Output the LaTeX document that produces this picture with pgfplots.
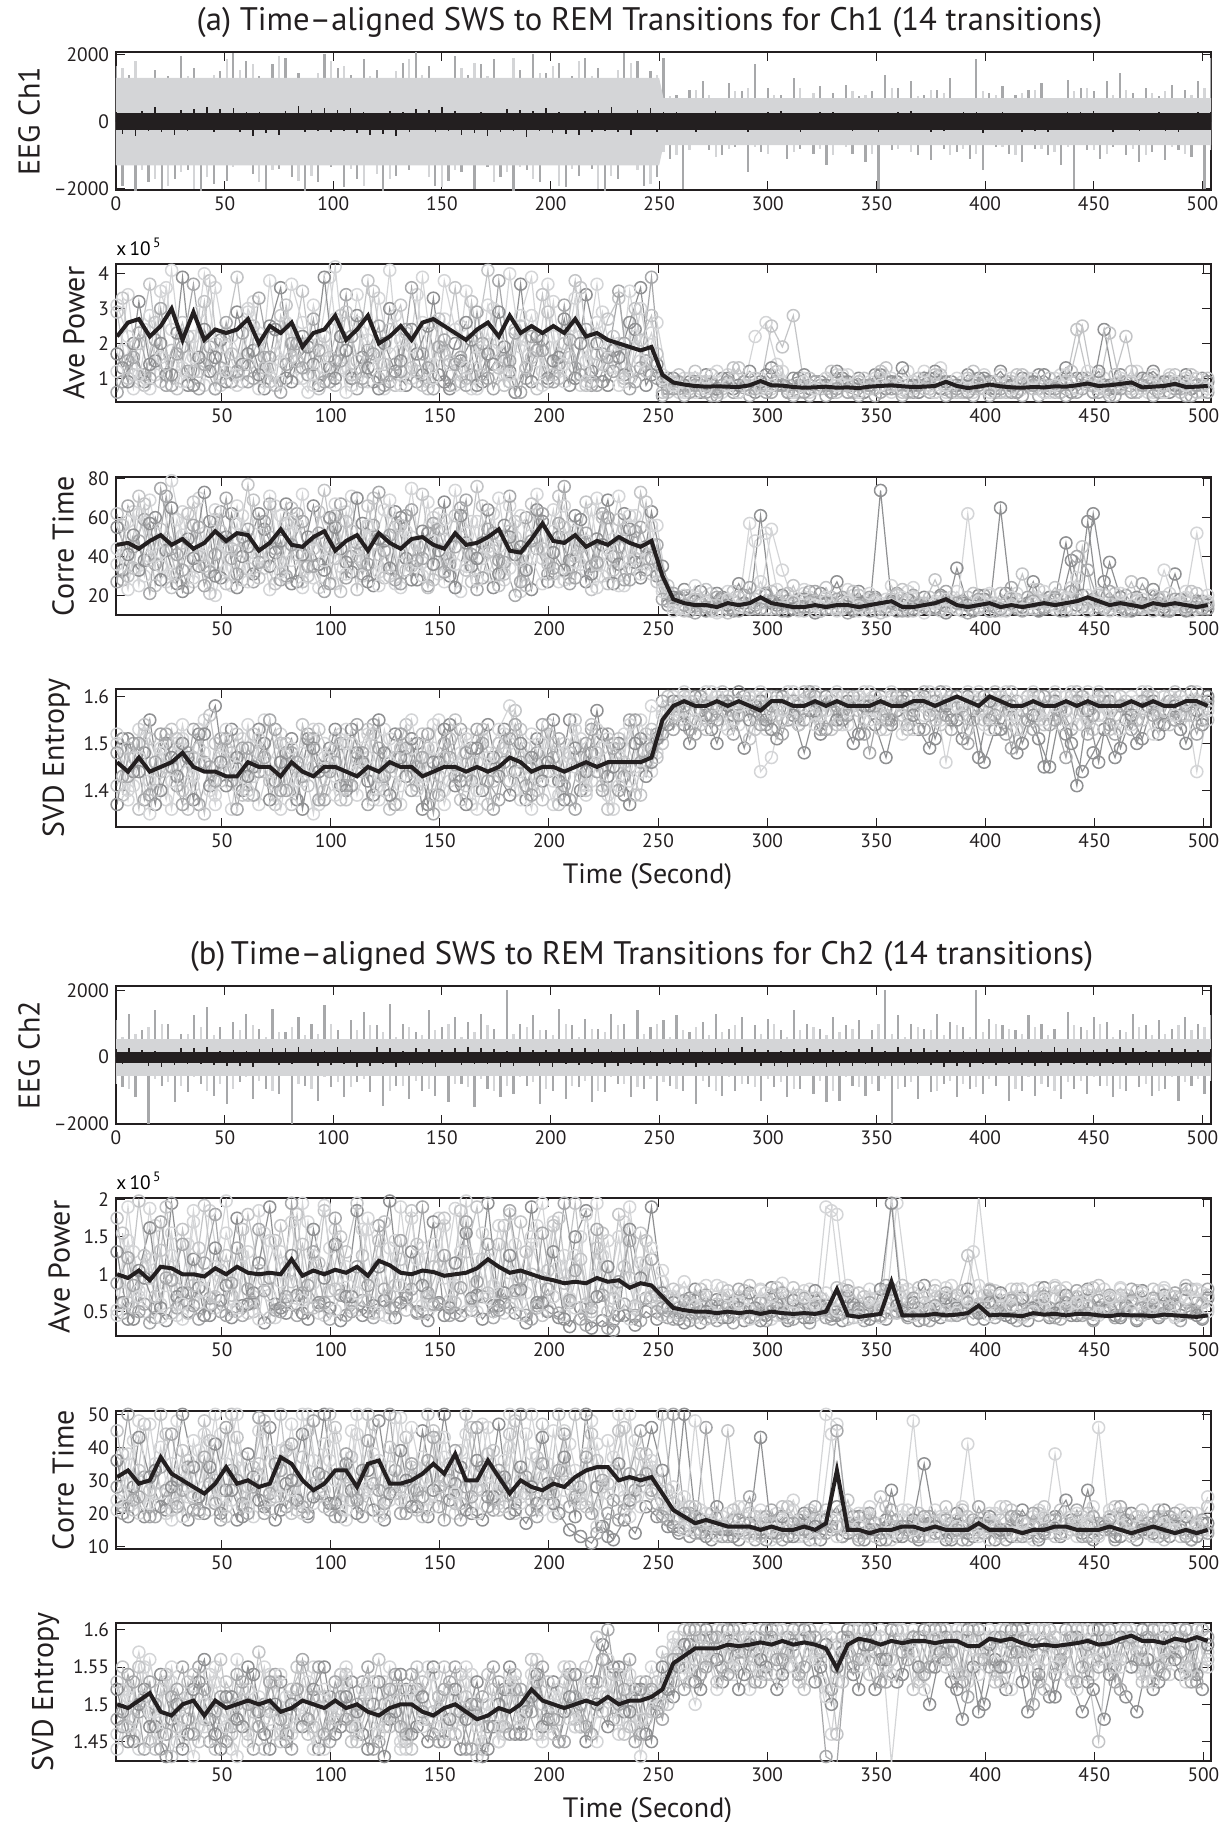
\documentclass[border=0pt]{standalone}
\usepackage{fontspec}
\setmainfont{PT Sans}
\usepackage{pgfplots}
\usepackage{pgfplotstable}
\pgfplotsset{compat=1.18}

\definecolor{lg}{HTML}{D4D5D7}
\definecolor{lg2}{HTML}{C3C4C6}
\definecolor{mg}{HTML}{A7A8AA}
\definecolor{dg}{HTML}{8F9092}
\definecolor{kk}{HTML}{231F20}

\pgfplotsset{
  panel/.style={
    width=547.5pt, height=69pt, scale only axis, anchor=north west,
    axis line style={line width=0.6pt, color=kk},
    tick align=inside, major tick length=4.5pt,
    tick style={line width=0.5pt, color=kk},
    ticklabel style={font=\fontsize{9.7}{11}\selectfont, color=kk},
    /pgf/number format/assume math mode=true,
    /pgf/number format/1000 sep={},
    ylabel style={font=\fontsize{15}{17}\selectfont, color=kk},
    xlabel style={font=\fontsize{14}{16}\selectfont, color=kk, xshift=-8pt, yshift=-1pt},
    title style={font=\fontsize{16.3}{19}\selectfont, color=kk, yshift=-2.5pt},
    xmin=1.5, xmax=503.5, xtick={50,100,...,500},
  },
  over/.style={panel, hide axis},
  eeg/.style={panel, xmin=0, xmax=504, xtick={0,50,...,500},
    ytick={-2000,0,2000}, yticklabels={\textendash2000,0,2000}},
  cl/.style={color=#1, mark=o, mark size=3pt, line width=0.6pt,
    mark options={line width=0.75pt}},
  meanline/.style={color=kk, line width=2pt, mark=none},
  sci/.style={after end axis/.code={
    \node[anchor=base west, inner sep=0pt, font=\fontsize{9.7}{11}\selectfont]
      at (rel axis cs:0,1) [yshift=4.5pt] {x\,10\textsuperscript{\,5}};}},
  spike/.style={color=#1, ycomb, line width=1.1pt, mark=none},
}

\newcommand\cloud[2]{%
  \addplot[cl=lg] table[x=x,y=f]{#2};
  \addplot[cl=dg] table[x=x,y=i]{#2};
  \addplot[cl=lg] table[x=x,y=a]{#1};
  \addplot[cl=mg] table[x=x,y=g]{#2};
  \addplot[cl=dg] table[x=x,y=d]{#1};
  \addplot[cl=lg2] table[x=x,y=b]{#1};
  \addplot[cl=lg2] table[x=x,y=h]{#2};
  \addplot[cl=mg] table[x=x,y=c]{#1};
  \addplot[cl=lg] table[x=x,y=e]{#1};}

% EEG traces: g = mid grey, l = light grey, k = mean (black)
\pgfplotstableread{
x g l k
0 1650 -1300 300
3 -1900 1600 -380
6 1400 -1100 250
9 -2100 1800 -420
12 1250 -1450 330
15 -1800 1000 -280
18 1550 -1700 450
21 -2000 1250 -310
24 1350 -1900 260
27 -1700 1150 -400
30 1950 -1500 350
33 -1450 1350 -290
36 1600 -2000 370
39 -2100 1050 -240
42 1300 -1650 430
45 -1850 1400 -300
48 1500 -1200 380
51 -1750 1850 -260
54 2050 -1350 410
57 -1200 1550 -320
60 1800 -1050 280
63 -1550 1700 -440
66 1350 -1800 300
69 -2000 1200 -350
72 1700 -1450 270
75 -1400 1950 -390
78 1900 -1150 320
81 -1650 1300 -250
84 1450 -1750 460
87 -2100 1100 -310
90 1250 -1600 340
93 -1800 1450 -280
96 2000 -1250 400
99 -1350 1800 -300
102 1600 -1000 360
105 -1950 1650 -270
108 1400 -1400 420
111 -1700 1200 -330
114 1850 -1900 290
117 -1250 1350 -410
120 1550 -1550 250
123 -2050 1000 -360
126 1300 -1700 320
129 -1600 1500 -440
132 1750 -1300 280
135 -1450 1850 -300
138 2100 -1150 390
141 -1300 1400 -260
144 1650 -1650 350
147 -1900 1250 -310
150 1200 -1950 430
153 -1750 1100 -280
156 1950 -1450 330
159 -1500 1600 -400
162 1400 -1200 270
165 -2000 1750 -350
168 1700 -1050 300
171 -1350 1350 -420
174 1850 -1800 260
177 -1650 1150 -320
180 1300 -1500 380
183 -2100 1900 -290
186 1550 -1350 340
189 -1450 1050 -450
192 2000 -1700 310
195 -1800 1450 -270
198 1450 -1250 400
201 -1250 1650 -330
204 1750 -1900 290
207 -1950 1200 -370
210 1350 -1400 250
213 -1600 1800 -410
216 1900 -1100 320
219 -1400 1350 -300
222 1600 -2000 360
225 -2050 1000 -280
228 1250 -1600 430
231 -1700 1550 -310
234 2050 -1300 270
237 -1300 1750 -390
240 1800 -1450 340
243 -1900 1150 -260
246 1500 -1850 420
249 -1650 1400 -300
252 1900 -900 280
255 -1100 750 -220
258 800 -1000 300
261 -2000 600 -190
264 950 -850 250
267 -700 950 -300
270 1200 -650 180
273 -850 800 -260
276 650 -1050 330
279 -1000 550 -200
282 1150 -800 270
285 -750 900 -170
288 900 -600 240
291 -1500 1000 -310
294 1700 -750 200
297 -900 650 -260
300 1000 -950 290
303 -650 800 -180
306 800 -700 320
309 -1100 600 -230
312 1300 -900 260
315 -800 1000 -300
318 700 -550 190
321 -950 850 -250
324 1050 -800 280
327 -1300 700 -210
330 850 -1000 300
333 -700 600 -170
336 1100 -750 250
339 -950 900 -290
342 750 -650 220
345 -1200 800 -260
348 900 -950 180
351 -2000 700 -310
354 1400 -600 270
357 -850 1000 -200
360 1000 -800 290
363 -700 650 -240
366 1200 -900 320
369 -1000 750 -180
372 800 -700 260
375 -1150 950 -300
378 950 -600 210
381 -800 850 -270
384 1300 -1000 240
387 -900 700 -190
390 700 -800 300
393 -1100 600 -250
396 1850 -950 280
399 -1450 900 -330
402 850 -650 200
405 -750 800 -260
408 1050 -750 290
411 -950 650 -180
414 800 -1000 250
417 -1200 850 -300
420 950 -600 220
423 -800 950 -270
426 1150 -800 190
429 -1000 700 -310
432 700 -900 260
435 -1300 600 -230
438 1250 -750 300
441 -2000 900 -200
444 1000 -650 280
447 -850 1000 -250
450 900 -850 320
453 -1100 700 -190
456 1200 -950 270
459 -750 800 -300
462 1450 -600 230
465 -1000 950 -260
468 850 -800 200
471 -1200 650 -290
474 1000 -1000 250
477 -900 850 -180
480 750 -700 300
483 -1150 900 -270
486 1100 -750 220
489 -850 600 -310
492 950 -950 260
495 -1050 800 -200
498 1200 -700 280
501 -2000 1000 -250
504 1900 -850 300
}\eegA

\pgfplotstableread{
x g l k
0 1100 -800 250
3 -900 600 -200
6 1300 -950 280
9 -1200 700 -180
12 800 -500 230
15 -2000 900 -260
18 1400 -650 200
21 -850 1000 -290
24 1000 -750 170
27 -1350 550 -240
30 700 -850 280
33 -1050 700 -210
36 1250 -600 260
39 -800 900 -190
42 1500 -1000 300
45 -1150 650 -230
48 900 -800 180
51 -1400 500 -270
54 1050 -950 220
57 -750 800 -250
60 1300 -600 190
63 -1250 950 -300
66 850 -700 240
69 -950 600 -170
72 1450 -1000 280
75 -1100 750 -220
78 750 -550 260
81 -2000 900 -200
84 1200 -800 290
87 -850 650 -180
90 1000 -950 250
93 -1300 700 -270
96 1550 -600 200
99 -900 1000 -240
102 800 -750 300
105 -1200 550 -190
108 1100 -900 230
111 -750 800 -280
114 1350 -650 170
117 -1050 950 -250
120 950 -500 290
123 -1450 750 -210
126 1600 -1000 260
129 -850 600 -300
132 1000 -850 180
135 -1250 900 -240
138 750 -700 270
141 -1000 650 -200
144 1400 -950 250
147 -1150 800 -290
150 900 -550 220
153 -1350 1000 -170
156 1200 -800 280
159 -800 600 -230
162 1050 -900 300
165 -1500 750 -190
168 1300 -650 260
171 -950 950 -210
174 850 -1000 240
177 -1200 550 -280
180 2000 -850 200
183 -1100 700 -250
186 1000 -600 290
189 -850 900 -180
192 1250 -750 230
195 -1400 800 -270
198 800 -950 210
201 -1000 650 -300
204 1450 -500 250
207 -1250 1000 -190
210 950 -850 280
213 -900 600 -220
216 1150 -700 260
219 -1350 850 -200
222 850 -1000 240
225 -1050 750 -290
228 1300 -600 180
231 -800 950 -250
234 1000 -800 270
237 -1200 550 -210
240 1400 -900 300
243 -950 700 -230
246 900 -650 200
249 -1300 1000 -260
252 1100 -750 240
255 -850 600 -190
258 1250 -950 280
261 -1000 800 -220
264 750 -550 250
267 -1400 900 -300
270 1050 -700 180
273 -900 650 -240
276 1300 -1000 270
279 -1150 750 -200
282 850 -600 260
285 -1000 950 -230
288 1200 -800 290
291 -800 550 -180
294 950 -900 250
297 -1300 700 -270
300 1150 -650 210
303 -900 1000 -260
306 800 -750 200
309 -1200 600 -290
312 1400 -950 240
315 -950 800 -220
318 1000 -550 280
321 -1100 900 -190
324 850 -700 250
327 -1350 650 -300
330 1200 -1000 230
333 -1300 750 -260
336 950 -600 200
339 -850 850 -270
342 1100 -900 240
345 -1150 550 -210
348 800 -800 290
351 -1000 1000 -250
354 2000 -650 180
357 -2000 700 -260
360 1250 -950 300
363 -900 600 -220
366 1000 -750 250
369 -1250 900 -190
372 850 -550 270
375 -1050 800 -240
378 1300 -1000 210
381 -800 650 -280
384 1050 -700 230
387 -1200 950 -260
390 900 -800 200
393 -950 600 -290
396 2000 -900 250
399 -1100 750 -210
402 1150 -650 280
405 -850 1000 -230
408 950 -550 260
411 -1300 850 -200
414 800 -950 290
417 -1000 700 -240
420 1250 -600 220
423 -1150 900 -270
426 1000 -800 190
429 -900 650 -250
432 850 -1000 300
435 -1250 550 -230
438 1350 -750 260
441 -950 950 -200
444 900 -700 280
447 -1100 800 -240
450 1200 -600 210
453 -850 1000 -270
456 1050 -850 250
459 -1200 600 -190
462 800 -950 290
465 -1000 750 -220
468 1300 -550 260
471 -900 900 -240
474 950 -800 200
477 -1150 650 -280
480 1100 -1000 230
483 -950 700 -250
486 850 -600 270
489 -1300 950 -210
492 1200 -750 250
495 -850 800 -290
498 1000 -650 220
501 -1100 900 -260
504 1250 -700 240
}\eegB

% Ch1 average power (x 10^5)
\pgfplotstableread{
x m a b c d e
2 2.2 1.2 2.9 0.6 1.7 3.1
7 2.6 3.4 1.0 1.5 0.9 2.2
12 2.7 0.9 2.0 2.3 3.2 1.1
17 2.2 2.8 3.7 1.0 1.4 0.7
22 2.5 1.6 0.9 3.0 2.0 3.5
27 3.0 4.1 1.8 0.8 1.1 2.4
32 2.1 1.3 2.6 1.9 3.9 0.9
37 2.9 2.2 1.2 3.7 0.8 1.6
42 2.1 0.8 3.2 1.4 2.4 4.0
47 2.4 3.6 0.7 0.7 1.6 2.0
52 2.3 1.9 2.3 2.6 0.9 1.2
57 2.4 1.1 3.9 1.2 2.9 0.8
62 2.7 2.9 1.4 0.9 1.7 3.0
67 2.0 0.7 2.1 3.3 1.1 2.3
72 2.5 3.8 0.9 1.6 2.5 1.3
77 2.3 1.5 2.8 0.6 3.6 0.9
82 2.6 2.4 1.6 2.0 0.9 3.7
87 1.9 1.0 3.5 1.3 2.2 2.6
92 2.3 3.1 1.1 2.7 1.4 0.8
97 2.4 1.8 2.2 0.9 3.9 1.3
102 2.8 4.2 0.8 1.5 1.0 2.7
107 2.1 1.2 2.9 3.4 1.8 0.6
112 2.4 2.6 1.5 0.7 2.8 3.4
117 2.8 0.9 3.8 1.8 1.3 2.1
122 2.0 3.3 1.0 2.5 0.7 1.4
127 2.2 1.7 2.4 0.9 3.0 4.1
132 2.5 2.1 3.1 1.2 1.5 0.8
137 2.1 1.0 1.3 3.6 2.4 1.9
142 2.6 3.9 0.8 1.7 1.1 2.6
147 2.7 1.4 2.6 0.7 3.3 1.0
152 2.5 2.7 1.7 2.1 0.9 3.8
157 2.3 0.8 3.6 1.4 2.0 2.4
162 2.1 3.5 1.0 0.8 2.6 1.3
167 2.4 1.6 2.2 2.9 0.8 0.7
172 2.6 2.3 4.1 1.0 1.7 3.1
177 2.2 1.1 1.3 3.8 2.9 2.0
182 2.8 4.0 0.9 1.5 1.2 1.1
187 2.3 1.9 2.5 0.6 3.7 2.8
192 2.5 2.8 1.6 2.2 0.9 3.9
197 2.3 1.2 3.4 1.8 2.1 0.8
202 2.5 3.2 1.1 0.9 1.5 2.2
207 2.3 0.9 2.0 3.1 2.7 1.4
212 2.7 2.5 3.8 1.3 1.0 3.3
217 2.2 1.5 0.8 2.4 3.4 0.9
222 2.3 3.7 1.7 0.8 2.0 2.6
227 2.1 1.3 2.7 1.6 0.8 1.9
232 2.0 2.0 3.3 3.5 1.6 0.8
237 1.9 1.0 1.2 0.7 2.6 3.5
242 1.8 3.0 2.1 1.3 3.6 1.5
247 1.9 1.4 2.8 3.9 1.1 2.3
252 1.1 1.1 0.6 0.5 0.9 1.0
257 0.88 0.7 0.9 0.7 1.0 0.8
262 0.82 1.0 0.7 0.5 0.8 0.6
267 0.78 0.6 1.2 0.8 0.9 1.0
272 0.76 0.9 0.8 0.6 1.1 0.7
277 0.77 0.7 0.6 0.5 0.7 1.2
282 0.76 1.1 0.9 0.9 1.0 0.8
287 0.75 0.6 1.3 0.6 0.8 0.6
292 0.80 0.8 0.7 0.5 1.2 1.0
297 0.92 1.0 0.8 0.7 0.9 0.7
302 0.80 0.7 2.5 0.6 1.3 0.8
307 0.79 0.9 1.9 0.8 0.8 1.2
312 0.75 0.6 2.8 0.5 1.0 0.6
317 0.73 1.0 0.8 0.6 1.1 0.9
322 0.74 0.7 0.7 0.9 0.9 0.7
327 0.76 0.8 1.0 0.5 0.8 1.0
332 0.73 1.1 0.6 0.7 1.2 0.8
337 0.74 0.6 0.8 0.6 0.9 1.1
342 0.72 0.9 0.9 0.5 1.0 0.6
347 0.76 0.7 0.7 0.8 0.8 0.9
352 0.78 1.0 1.2 0.6 1.1 0.8
357 0.80 0.6 0.8 0.7 0.9 1.0
362 0.77 0.8 0.6 0.5 1.3 0.7
367 0.75 0.7 0.9 0.6 0.8 0.9
372 0.76 1.0 0.7 0.9 1.0 1.2
377 0.78 0.9 1.1 0.6 1.2 0.6
382 0.90 0.6 0.8 0.5 0.9 0.8
387 0.78 0.8 0.6 0.7 0.8 1.0
392 0.72 1.1 1.0 0.6 1.1 0.7
397 0.76 0.7 0.7 0.8 1.0 0.9
402 0.82 0.9 0.8 0.5 0.9 0.6
407 0.77 0.6 0.6 0.7 1.2 1.1
412 0.74 1.0 0.9 0.6 0.8 0.7
417 0.73 0.7 1.1 0.5 1.0 0.9
422 0.75 0.8 0.7 0.8 0.9 1.0
427 0.74 0.6 0.8 0.6 1.1 0.6
432 0.77 1.0 0.6 0.7 0.8 0.8
437 0.76 0.9 0.9 0.5 1.3 1.1
442 0.80 0.7 2.4 0.6 1.0 0.7
447 0.85 0.8 1.0 0.9 0.9 1.2
452 0.78 1.1 0.7 0.6 1.2 0.8
457 0.80 0.6 2.3 0.5 0.8 0.6
462 0.84 0.9 0.8 0.7 1.1 1.0
467 0.88 0.7 1.2 0.6 0.9 0.9
472 0.74 1.0 0.7 0.8 1.0 0.7
477 0.76 0.6 0.9 0.5 1.2 1.1
482 0.78 0.8 0.8 0.6 0.9 0.6
487 0.84 0.7 1.1 0.7 0.8 0.9
492 0.75 1.0 0.7 0.5 1.1 0.8
497 0.76 0.6 0.6 0.8 1.0 1.0
502 0.78 0.9 1.0 0.6 0.9 0.7
}\powA
\pgfplotstableread{
x f g h i
4.5 1.8 0.9 3.3 1.3
9.5 0.7 1.6 1.1 2.0
14.5 2.4 1.1 0.8 0.9
19.5 1.1 2.1 2.6 1.5
24.5 3.6 0.8 1.4 1.1
29.5 1.4 1.7 0.7 2.3
34.5 0.9 1.2 2.2 0.8
39.5 2.9 0.7 1.2 1.6
44.5 1.2 1.9 3.8 1.2
49.5 0.8 1.3 1.0 2.1
54.5 2.2 0.9 1.7 0.9
59.5 1.5 2.3 0.9 1.4
64.5 3.2 1.0 2.5 1.8
69.5 0.9 1.6 1.3 0.7
74.5 1.7 0.8 0.8 2.4
79.5 2.6 1.4 3.1 1.0
84.5 1.0 2.0 1.5 1.5
89.5 0.6 1.1 2.0 1.9
94.5 2.0 1.8 0.7 0.8
99.5 3.9 0.9 1.6 1.3
104.5 1.3 1.5 2.8 2.2
109.5 0.8 2.2 1.1 1.0
114.5 2.3 1.0 0.9 1.6
119.5 1.6 1.7 3.5 0.9
124.5 0.7 0.8 1.4 2.0
129.5 2.8 1.4 0.8 1.2
134.5 1.2 2.4 2.3 0.8
139.5 3.4 0.9 1.2 1.7
144.5 0.9 1.3 0.7 2.5
149.5 1.9 1.9 2.7 1.1
154.5 1.4 0.8 1.5 0.7
159.5 2.5 1.6 0.9 1.5
164.5 0.7 1.1 3.2 2.1
169.5 1.8 2.0 1.1 0.9
174.5 3.0 0.7 1.8 1.4
179.5 1.1 1.5 0.8 1.9
184.5 0.6 2.3 2.4 0.6
189.5 2.1 1.0 1.3 1.3
194.5 1.5 1.8 0.7 2.2
199.5 3.7 0.9 2.9 1.0
204.5 1.0 1.4 1.0 1.6
209.5 2.4 2.1 1.6 0.8
214.5 0.8 1.1 3.6 2.0
219.5 1.7 0.8 0.9 1.2
224.5 2.9 1.7 1.4 0.9
229.5 1.3 1.2 2.2 1.8
234.5 0.9 2.0 1.0 1.1
239.5 2.2 0.9 3.0 2.4
244.5 1.4 1.5 1.2 0.8
249.5 2.6 1.0 1.7 1.4
254.5 0.9 0.7 0.6 1.0
259.5 0.6 0.9 1.1 0.7
264.5 1.0 0.6 0.7 0.9
269.5 0.7 0.8 0.9 0.6
274.5 0.9 0.5 1.1 0.8
279.5 0.6 0.8 0.7 1.0
284.5 1.0 0.6 1.3 0.7
289.5 0.8 0.9 0.8 0.9
294.5 2.2 0.7 1.0 0.6
299.5 2.6 0.6 0.7 1.1
304.5 1.4 0.9 1.2 0.8
309.5 0.7 0.6 0.8 0.6
314.5 1.0 0.8 0.6 1.0
319.5 0.6 0.5 1.0 0.7
324.5 0.9 0.8 0.7 0.9
329.5 0.7 0.6 1.2 0.6
334.5 1.1 0.9 0.8 1.0
339.5 0.8 0.6 0.6 0.8
344.5 0.6 0.8 1.0 0.6
349.5 1.0 0.5 0.7 1.1
354.5 0.7 0.9 1.3 0.7
359.5 0.9 0.7 0.8 0.9
364.5 1.2 0.6 0.6 0.8
369.5 0.6 0.8 1.0 0.6
374.5 0.8 0.6 0.7 1.0
379.5 1.3 0.9 1.1 0.7
384.5 0.7 0.6 0.8 0.9
389.5 0.9 0.8 0.6 0.6
394.5 0.6 0.5 1.2 0.8
399.5 1.1 0.9 0.7 1.0
404.5 0.7 0.6 0.9 0.7
409.5 0.9 0.8 0.6 0.9
414.5 0.6 0.6 1.1 0.6
419.5 1.0 0.9 0.8 0.8
424.5 0.8 0.5 0.7 1.1
429.5 0.6 0.8 1.0 0.7
434.5 1.1 0.6 0.6 0.9
439.5 0.7 0.9 1.2 0.6
444.5 0.9 0.7 2.5 1.0
449.5 0.6 0.6 0.8 0.8
454.5 1.0 0.8 0.7 2.4
459.5 0.8 0.5 1.1 0.7
464.5 0.7 0.9 2.2 0.9
469.5 1.2 0.6 0.6 0.6
474.5 0.6 0.8 0.9 1.0
479.5 0.9 0.6 0.7 0.8
484.5 1.1 0.9 1.0 0.6
489.5 0.7 0.7 0.6 0.9
494.5 0.9 0.5 1.1 0.7
499.5 0.6 0.8 0.8 1.0
}\powAb

% Ch1 correlation time
\pgfplotstableread{
x m a b c d e
2 46 36 62 27 55 44
7 47 58 30 66 41 23
12 44 25 71 48 33 62
17 48 69 38 21 57 40
22 51 42 54 75 28 35
27 46 31 24 44 65 79
32 49 63 47 33 22 51
37 44 27 68 56 39 29
42 47 52 35 25 73 46
47 53 20 59 41 30 64
52 48 45 26 70 50 33
57 52 66 43 31 24 57
62 51 34 77 54 45 27
67 43 57 29 37 62 40
72 47 23 50 67 35 71
77 54 61 37 28 48 32
82 46 38 65 46 26 58
87 45 72 27 58 41 24
92 50 29 44 35 66 49
97 53 47 74 22 33 38
102 43 26 39 61 55 67
107 48 63 58 29 37 31
112 51 40 23 47 70 44
117 43 55 66 36 27 56
122 52 32 41 73 49 25
127 47 69 30 51 34 63
132 44 24 56 26 60 42
137 49 50 35 64 28 75
142 50 37 72 39 53 30
147 46 60 28 57 36 48
152 44 27 49 32 68 59
157 52 74 61 45 24 36
162 46 35 33 69 47 52
167 47 58 76 23 39 28
172 50 30 42 54 64 45
177 54 45 25 38 31 70
182 43 66 53 71 50 34
187 42 22 38 27 45 61
192 49 51 67 48 23 39
197 57 39 44 62 58 26
202 48 64 31 34 42 53
207 47 28 55 76 33 66
212 51 53 40 29 61 37
217 45 33 68 52 27 48
222 48 70 36 37 49 24
227 46 41 26 60 69 44
232 50 25 59 45 36 71
237 47 61 34 28 54 38
242 45 44 73 55 29 31
247 48 31 46 39 63 56
252 30 24 27 18 35 22
257 18 16 14 21 19 12
262 16 20 12 15 23 13
267 15 13 18 11 17 25
272 15 17 23 14 12 16
277 14 12 15 19 21 11
282 16 22 11 13 15 18
287 15 14 19 12 26 14
292 16 18 13 24 14 57
297 19 27 16 13 61 20
302 16 13 22 17 16 54
307 15 19 14 12 20 33
312 14 15 25 16 13 17
317 14 21 12 14 18 23
322 15 12 17 22 11 15
327 14 17 24 13 16 19
332 15 14 13 18 27 12
337 15 23 16 11 14 17
342 14 12 20 15 22 14
347 15 18 14 19 12 21
352 16 15 11 13 74 16
357 17 25 18 16 17 13
362 14 13 23 12 15 19
367 14 19 12 20 13 24
372 15 14 16 14 19 11
377 16 17 28 13 14 16
382 18 12 15 22 11 18
387 15 22 13 16 34 13
392 14 15 19 11 15 62
397 15 13 14 18 20 17
402 16 20 12 15 12 21
407 14 12 21 13 65 14
412 15 18 15 24 16 19
417 14 14 31 12 14 13
422 15 23 13 17 27 16
427 16 16 17 14 13 22
432 15 13 24 19 18 15
437 16 19 14 12 47 18
442 17 29 18 40 15 13
447 19 14 12 33 58 20
452 17 21 20 16 14 16
457 15 15 13 22 37 12
462 16 12 16 14 19 21
467 15 18 27 13 12 15
472 14 13 14 26 16 18
477 16 20 12 15 23 14
482 15 16 19 12 14 33
487 16 14 15 18 31 16
492 15 22 13 14 12 19
497 14 13 21 16 17 52
502 15 17 16 13 15 20
}\corA
\pgfplotstableread{
x f g h i
4.5 41 28 56 33
9.5 63 45 34 51
14.5 30 59 67 38
19.5 52 36 25 60
24.5 27 71 48 43
29.5 59 41 31 26
34.5 38 24 62 49
39.5 70 55 40 35
44.5 33 32 21 58
49.5 48 63 53 29
54.5 25 39 44 62
59.5 61 50 28 40
64.5 42 27 69 31
69.5 34 58 37 54
74.5 66 44 26 42
79.5 29 30 57 67
84.5 56 62 41 27
89.5 40 35 30 50
94.5 24 52 63 36
99.5 59 26 45 60
104.5 35 67 22 44
109.5 71 40 53 32
114.5 30 31 38 57
119.5 47 56 70 25
124.5 64 43 29 48
129.5 26 28 55 63
134.5 53 61 33 39
139.5 37 38 46 28
144.5 68 25 24 52
149.5 31 54 62 43
154.5 45 36 39 30
159.5 22 65 50 61
164.5 58 41 27 35
169.5 39 29 66 47
174.5 62 52 43 24
179.5 28 37 31 56
184.5 50 20 58 41
189.5 34 60 25 33
194.5 72 44 48 64
199.5 42 31 36 27
204.5 27 57 71 50
209.5 55 26 29 38
214.5 36 48 45 59
219.5 64 35 23 31
224.5 30 62 60 46
229.5 49 40 33 26
234.5 25 28 54 62
239.5 61 53 39 37
244.5 38 33 68 45
249.5 56 46 27 30
254.5 22 17 25 15
259.5 14 19 13 18
264.5 18 12 20 14
269.5 13 16 15 22
274.5 21 14 12 13
279.5 12 18 17 19
284.5 17 13 22 12
289.5 14 20 14 16
294.5 48 15 18 13
299.5 52 21 13 20
304.5 23 13 17 15
309.5 15 17 21 12
314.5 12 14 13 18
319.5 19 22 16 14
324.5 14 12 12 21
329.5 17 16 19 13
334.5 13 19 14 17
339.5 20 13 22 12
344.5 15 15 13 16
349.5 12 18 17 19
354.5 18 14 12 14
359.5 14 21 20 12
364.5 22 12 14 18
369.5 13 16 16 15
374.5 16 13 19 13
379.5 12 19 13 20
384.5 19 14 17 14
389.5 15 17 12 16
394.5 12 13 21 12
399.5 18 20 14 18
404.5 14 12 16 14
409.5 13 16 12 21
414.5 21 14 18 13
419.5 16 19 13 16
424.5 12 13 23 12
429.5 19 17 15 19
434.5 14 12 20 15
439.5 24 22 13 38
444.5 16 14 45 20
449.5 13 18 17 62
454.5 20 13 14 27
459.5 15 16 21 15
464.5 12 20 12 13
469.5 18 13 17 19
474.5 14 15 14 14
479.5 13 18 19 16
484.5 21 12 13 12
489.5 15 16 16 18
494.5 12 14 22 14
499.5 17 13 14 17
}\corAb

% Ch1 SVD entropy
\pgfplotstableread{
x m a b c d e
2 1.46 1.50 1.41 1.48 1.37 1.52
7 1.44 1.38 1.49 1.43 1.51 1.40
12 1.47 1.53 1.36 1.50 1.44 1.47
17 1.44 1.42 1.51 1.39 1.55 1.35
22 1.45 1.48 1.44 1.52 1.40 1.49
27 1.46 1.36 1.53 1.45 1.47 1.42
32 1.48 1.51 1.40 1.37 1.50 1.54
37 1.45 1.43 1.47 1.53 1.38 1.41
42 1.44 1.55 1.35 1.46 1.52 1.48
47 1.44 1.39 1.50 1.42 1.58 1.37
52 1.43 1.49 1.44 1.51 1.41 1.53
57 1.43 1.41 1.52 1.36 1.47 1.45
62 1.46 1.54 1.39 1.49 1.43 1.40
67 1.45 1.37 1.48 1.44 1.53 1.51
72 1.45 1.46 1.42 1.55 1.38 1.44
77 1.43 1.52 1.50 1.40 1.46 1.36
82 1.46 1.40 1.37 1.48 1.51 1.49
87 1.44 1.48 1.54 1.43 1.36 1.42
92 1.43 1.35 1.45 1.51 1.49 1.53
97 1.45 1.50 1.40 1.38 1.45 1.47
102 1.45 1.43 1.51 1.46 1.53 1.39
107 1.44 1.53 1.38 1.41 1.40 1.50
112 1.43 1.39 1.47 1.54 1.48 1.44
117 1.45 1.47 1.53 1.37 1.42 1.52
122 1.44 1.41 1.43 1.49 1.55 1.38
127 1.46 1.51 1.36 1.45 1.39 1.46
132 1.45 1.37 1.49 1.52 1.47 1.41
137 1.45 1.49 1.44 1.40 1.51 1.55
142 1.43 1.42 1.52 1.47 1.36 1.43
147 1.44 1.54 1.39 1.35 1.46 1.49
152 1.45 1.40 1.47 1.50 1.53 1.37
157 1.45 1.46 1.55 1.43 1.41 1.45
162 1.44 1.52 1.41 1.48 1.37 1.51
167 1.45 1.36 1.46 1.53 1.49 1.40
172 1.44 1.48 1.37 1.42 1.54 1.47
177 1.45 1.43 1.50 1.38 1.43 1.53
182 1.47 1.50 1.42 1.51 1.39 1.58
187 1.46 1.38 1.53 1.46 1.50 1.44
192 1.44 1.52 1.45 1.39 1.47 1.36
197 1.45 1.44 1.38 1.54 1.42 1.50
202 1.45 1.37 1.50 1.47 1.55 1.42
207 1.44 1.50 1.43 1.41 1.38 1.48
212 1.45 1.45 1.55 1.36 1.49 1.53
217 1.46 1.41 1.40 1.50 1.44 1.39
222 1.45 1.53 1.48 1.44 1.57 1.46
227 1.46 1.39 1.36 1.52 1.43 1.51
232 1.46 1.47 1.51 1.40 1.50 1.41
237 1.46 1.42 1.45 1.55 1.37 1.54
242 1.46 1.55 1.39 1.46 1.51 1.44
247 1.47 1.44 1.53 1.49 1.46 1.58
252 1.55 1.57 1.50 1.59 1.52 1.56
257 1.58 1.60 1.56 1.53 1.59 1.57
262 1.59 1.55 1.60 1.58 1.54 1.61
267 1.58 1.59 1.57 1.52 1.60 1.55
272 1.58 1.61 1.53 1.58 1.56 1.59
277 1.59 1.56 1.60 1.55 1.50 1.60
282 1.58 1.60 1.57 1.59 1.58 1.53
287 1.59 1.54 1.59 1.56 1.61 1.58
292 1.58 1.59 1.51 1.60 1.55 1.60
297 1.57 1.61 1.58 1.54 1.59 1.44
302 1.59 1.57 1.60 1.58 1.53 1.47
307 1.59 1.60 1.55 1.52 1.60 1.57
312 1.58 1.55 1.59 1.59 1.56 1.61
317 1.58 1.59 1.61 1.55 1.48 1.58
322 1.59 1.61 1.56 1.60 1.57 1.54
327 1.58 1.57 1.59 1.53 1.60 1.59
332 1.59 1.60 1.54 1.58 1.55 1.61
337 1.58 1.54 1.60 1.56 1.59 1.57
342 1.58 1.59 1.57 1.60 1.52 1.60
347 1.58 1.61 1.59 1.48 1.58 1.55
352 1.59 1.56 1.53 1.59 1.60 1.59
357 1.58 1.60 1.60 1.55 1.54 1.61
362 1.58 1.58 1.56 1.60 1.59 1.52
367 1.59 1.53 1.59 1.57 1.56 1.59
372 1.59 1.60 1.61 1.53 1.60 1.56
377 1.58 1.57 1.55 1.59 1.51 1.60
382 1.59 1.61 1.59 1.56 1.58 1.46
387 1.60 1.55 1.60 1.60 1.55 1.58
392 1.59 1.59 1.53 1.50 1.60 1.61
397 1.58 1.61 1.58 1.58 1.47 1.57
402 1.60 1.56 1.60 1.55 1.59 1.53
407 1.59 1.60 1.55 1.60 1.53 1.60
412 1.58 1.58 1.61 1.49 1.58 1.56
417 1.58 1.53 1.57 1.57 1.50 1.59
422 1.59 1.60 1.59 1.53 1.56 1.61
427 1.58 1.57 1.54 1.60 1.45 1.55
432 1.58 1.61 1.60 1.55 1.59 1.58
437 1.59 1.55 1.57 1.47 1.52 1.60
442 1.58 1.59 1.61 1.59 1.41 1.54
447 1.59 1.61 1.55 1.52 1.57 1.59
452 1.58 1.56 1.59 1.60 1.46 1.61
457 1.58 1.60 1.53 1.54 1.59 1.57
462 1.58 1.58 1.60 1.58 1.49 1.53
467 1.59 1.54 1.58 1.53 1.56 1.60
472 1.58 1.61 1.55 1.59 1.51 1.58
477 1.59 1.57 1.60 1.56 1.59 1.52
482 1.58 1.60 1.57 1.60 1.54 1.60
487 1.58 1.55 1.61 1.55 1.58 1.56
492 1.59 1.59 1.56 1.58 1.50 1.59
497 1.59 1.61 1.59 1.52 1.57 1.44
502 1.58 1.58 1.55 1.59 1.60 1.57
}\svdA
\pgfplotstableread{
x f g h i
4.5 1.49 1.43 1.39 1.51
9.5 1.41 1.50 1.47 1.44
14.5 1.52 1.38 1.54 1.48
19.5 1.46 1.46 1.40 1.37
24.5 1.38 1.52 1.45 1.50
29.5 1.50 1.41 1.51 1.43
34.5 1.44 1.48 1.36 1.47
39.5 1.53 1.37 1.49 1.52
44.5 1.40 1.45 1.56 1.41
49.5 1.47 1.51 1.42 1.46
54.5 1.36 1.42 1.48 1.53
59.5 1.51 1.49 1.39 1.40
64.5 1.43 1.39 1.52 1.45
69.5 1.55 1.47 1.44 1.50
74.5 1.39 1.53 1.37 1.42
79.5 1.48 1.40 1.50 1.48
84.5 1.42 1.46 1.45 1.38
89.5 1.50 1.52 1.41 1.51
94.5 1.37 1.38 1.53 1.44
99.5 1.46 1.44 1.47 1.49
104.5 1.52 1.50 1.38 1.41
109.5 1.41 1.41 1.50 1.53
114.5 1.49 1.48 1.44 1.46
119.5 1.38 1.54 1.52 1.39
124.5 1.53 1.43 1.40 1.48
129.5 1.44 1.37 1.47 1.52
134.5 1.50 1.49 1.54 1.43
139.5 1.40 1.45 1.41 1.50
144.5 1.47 1.52 1.49 1.37
149.5 1.55 1.39 1.43 1.46
154.5 1.42 1.47 1.51 1.54
159.5 1.48 1.53 1.38 1.42
164.5 1.37 1.42 1.46 1.49
169.5 1.51 1.50 1.53 1.40
174.5 1.45 1.36 1.42 1.47
179.5 1.52 1.46 1.49 1.53
184.5 1.40 1.54 1.57 1.44
189.5 1.49 1.41 1.45 1.38
194.5 1.43 1.48 1.40 1.51
199.5 1.54 1.44 1.52 1.46
204.5 1.39 1.51 1.37 1.42
209.5 1.47 1.38 1.48 1.55
214.5 1.51 1.47 1.43 1.40
219.5 1.42 1.53 1.54 1.48
224.5 1.49 1.40 1.41 1.52
229.5 1.36 1.49 1.50 1.45
234.5 1.52 1.43 1.46 1.39
239.5 1.45 1.55 1.39 1.50
244.5 1.50 1.46 1.52 1.43
249.5 1.48 1.52 1.47 1.51
254.5 1.58 1.55 1.60 1.54
259.5 1.55 1.59 1.56 1.58
264.5 1.60 1.53 1.59 1.50
269.5 1.57 1.60 1.54 1.57
274.5 1.61 1.56 1.58 1.53
279.5 1.54 1.59 1.61 1.59
284.5 1.59 1.52 1.55 1.56
289.5 1.56 1.60 1.59 1.49
294.5 1.60 1.57 1.53 1.58
299.5 1.53 1.54 1.60 1.55
304.5 1.59 1.60 1.56 1.51
309.5 1.61 1.55 1.59 1.59
314.5 1.55 1.58 1.54 1.54
319.5 1.59 1.61 1.60 1.57
324.5 1.56 1.53 1.57 1.52
329.5 1.60 1.59 1.53 1.59
334.5 1.54 1.56 1.60 1.55
339.5 1.59 1.60 1.58 1.50
344.5 1.61 1.52 1.55 1.58
349.5 1.57 1.58 1.60 1.54
354.5 1.53 1.55 1.56 1.47
359.5 1.60 1.60 1.59 1.57
364.5 1.56 1.54 1.53 1.60
369.5 1.59 1.59 1.60 1.53
374.5 1.61 1.56 1.57 1.49
379.5 1.55 1.61 1.54 1.58
384.5 1.59 1.53 1.60 1.55
389.5 1.57 1.58 1.56 1.51
394.5 1.60 1.55 1.59 1.57
399.5 1.54 1.60 1.55 1.46
404.5 1.59 1.56 1.61 1.53
409.5 1.61 1.52 1.57 1.59
414.5 1.56 1.59 1.53 1.48
419.5 1.60 1.55 1.60 1.55
424.5 1.55 1.60 1.56 1.51
429.5 1.59 1.54 1.59 1.45
434.5 1.57 1.58 1.54 1.57
439.5 1.61 1.53 1.60 1.50
444.5 1.54 1.60 1.57 1.44
449.5 1.59 1.56 1.53 1.48
454.5 1.56 1.59 1.60 1.53
459.5 1.60 1.52 1.56 1.47
464.5 1.55 1.58 1.59 1.55
469.5 1.59 1.55 1.55 1.50
474.5 1.61 1.60 1.60 1.58
479.5 1.56 1.54 1.57 1.52
484.5 1.60 1.59 1.54 1.57
489.5 1.55 1.56 1.60 1.53
494.5 1.59 1.61 1.56 1.59
499.5 1.57 1.55 1.59 1.54
}\svdAb

% Ch2 average power (x 10^5)
\pgfplotstableread{
x m a b c d e
2 1.00 0.52 1.75 0.88 1.30 0.45
7 0.95 1.45 0.62 1.22 0.40 1.90
12 1.05 0.78 1.98 0.50 1.05 0.70
17 0.92 1.88 0.95 0.35 1.62 1.20
22 1.10 0.60 1.32 1.70 0.55 0.42
27 1.08 1.25 0.48 0.92 1.95 1.55
32 1.00 0.40 1.60 1.40 0.75 0.60
37 1.00 1.70 0.85 0.58 1.20 1.85
42 0.97 0.95 1.92 1.15 0.45 0.78
47 1.08 0.55 0.70 1.80 1.35 1.10
52 1.00 1.55 1.25 0.45 0.85 1.98
57 1.10 1.00 0.50 1.35 1.75 0.55
62 1.02 0.48 1.80 0.80 0.60 1.30
67 1.00 1.85 1.05 1.60 1.15 0.40
72 1.02 0.72 0.42 0.95 1.90 1.45
77 1.00 1.30 1.65 0.50 0.55 0.90
82 1.20 0.60 0.90 1.95 1.25 1.70
87 0.98 1.95 1.40 0.75 0.48 0.65
92 1.05 0.88 0.55 1.30 1.60 1.25
97 1.00 0.45 1.85 0.62 0.95 1.92
102 1.06 1.60 0.80 1.75 1.40 0.52
107 1.02 0.98 1.30 0.45 0.70 1.10
112 1.10 0.52 1.95 1.10 1.85 0.75
117 0.98 1.75 0.65 0.85 0.50 1.60
122 1.18 1.15 1.45 1.65 1.10 0.48
127 1.12 0.42 0.72 0.55 1.98 1.35
132 1.02 1.90 1.20 1.45 0.62 0.85
137 1.00 0.70 1.85 0.80 1.30 1.75
142 1.05 1.35 0.48 1.90 0.85 0.58
147 1.03 0.58 1.10 0.60 1.70 1.40
152 0.98 1.65 1.75 1.25 0.45 0.95
157 1.00 0.85 0.62 0.48 1.15 1.88
162 1.02 1.98 1.30 1.70 1.55 0.50
167 1.08 0.50 1.90 0.90 0.72 1.20
172 1.20 1.20 0.75 1.40 1.95 0.68
177 1.10 0.75 1.40 0.52 0.58 1.65
182 1.02 1.80 0.55 1.85 1.25 1.02
187 1.05 0.62 1.70 0.95 0.80 0.45
192 1.00 1.40 1.00 0.40 1.90 1.50
197 0.95 0.95 0.45 1.55 0.62 1.95
202 0.92 1.70 1.65 0.70 1.30 0.70
207 0.88 0.45 0.88 1.95 0.40 1.25
212 0.90 1.25 1.95 1.05 1.50 0.55
217 0.88 0.55 0.60 0.32 1.85 1.80
222 0.95 1.95 1.35 1.60 0.70 0.98
227 0.90 0.80 0.50 0.28 1.10 1.45
232 0.92 1.50 1.80 0.90 0.45 0.60
237 0.82 0.40 0.95 1.45 1.60 1.90
242 0.88 1.15 1.55 0.38 0.95 0.80
247 0.85 0.65 0.70 1.20 1.90 1.35
252 0.70 0.90 0.45 0.55 0.75 1.05
257 0.55 0.48 0.80 0.40 0.62 0.70
262 0.52 0.75 0.55 0.65 0.35 0.90
267 0.50 0.42 0.68 0.48 0.80 0.58
272 0.50 0.62 0.40 0.72 0.50 0.85
277 0.48 0.85 0.60 0.38 0.66 0.45
282 0.50 0.45 0.78 0.58 0.42 0.72
287 0.48 0.70 0.48 0.80 0.55 0.62
292 0.50 0.52 0.85 0.42 0.75 0.40
297 0.47 0.80 0.50 0.62 0.38 0.78
302 0.50 0.40 0.72 0.50 0.82 0.55
307 0.48 0.65 0.45 0.75 0.48 0.88
312 0.47 0.55 0.82 0.40 0.65 0.48
317 0.48 0.78 0.52 0.68 0.42 0.70
322 0.47 0.45 0.68 0.55 0.78 0.60
327 0.50 1.90 0.50 0.42 0.58 0.75
332 0.80 1.80 0.82 0.65 0.45 0.52
337 0.45 0.62 0.40 0.78 0.70 0.85
342 0.43 0.48 0.75 0.50 0.55 0.42
347 0.45 0.80 0.52 0.62 0.40 0.68
352 0.47 0.42 0.70 0.45 0.80 0.55
357 0.90 2.05 0.48 0.80 1.95 0.62
362 0.45 0.60 0.85 0.52 0.50 0.78
367 0.45 0.75 0.45 0.68 0.62 0.45
372 0.45 0.50 0.62 0.40 0.85 0.70
377 0.47 0.85 0.78 0.58 0.45 0.55
382 0.45 0.45 0.50 0.75 0.68 0.82
387 0.46 0.68 0.72 0.45 0.55 0.48
392 0.48 0.55 1.25 0.62 0.80 0.65
397 0.58 2.05 0.60 0.50 0.48 0.85
402 0.45 0.72 0.80 0.78 0.62 0.45
407 0.46 0.48 0.55 0.48 0.75 0.72
412 0.45 0.80 0.68 0.65 0.42 0.58
417 0.44 0.42 0.45 0.80 0.68 0.80
422 0.48 0.65 0.78 0.52 0.55 0.50
427 0.46 0.75 0.52 0.70 0.82 0.68
432 0.47 0.50 0.82 0.42 0.48 0.85
437 0.45 0.82 0.48 0.62 0.72 0.55
442 0.47 0.55 0.70 0.78 0.45 0.62
447 0.47 0.72 0.58 0.48 0.80 0.78
452 0.45 0.45 0.85 0.65 0.55 0.48
457 0.44 0.68 0.50 0.72 0.70 0.70
462 0.46 0.80 0.72 0.45 0.42 0.82
467 0.45 0.48 0.62 0.80 0.65 0.52
472 0.45 0.70 0.45 0.55 0.78 0.75
477 0.44 0.55 0.80 0.68 0.50 0.60
482 0.46 0.78 0.55 0.48 0.72 0.82
487 0.45 0.42 0.70 0.75 0.58 0.45
492 0.44 0.65 0.85 0.52 0.80 0.68
497 0.43 0.80 0.50 0.62 0.45 0.78
502 0.45 0.50 0.72 0.80 0.68 0.55
}\powB
\pgfplotstableread{
x f g h i
4.5 0.75 0.48 1.55 0.62
9.5 1.30 0.85 0.55 0.40
14.5 0.50 0.60 1.25 0.95
19.5 1.65 0.42 0.70 0.55
24.5 0.85 0.95 1.90 0.38
29.5 0.45 0.55 0.80 0.70
34.5 1.40 0.75 0.48 0.50
39.5 0.62 0.40 1.35 0.82
44.5 1.85 0.68 0.60 0.45
49.5 0.95 0.50 1.05 0.65
54.5 0.52 0.88 0.72 0.42
59.5 1.25 0.45 1.60 0.58
64.5 0.70 0.62 0.50 0.75
69.5 1.55 0.78 0.92 0.35
74.5 0.42 0.52 1.45 0.60
79.5 1.10 0.70 0.65 0.48
84.5 0.68 0.45 1.80 0.72
89.5 1.70 0.85 0.55 0.40
94.5 0.48 0.58 1.15 0.62
99.5 1.35 0.40 0.78 0.55
104.5 0.80 0.72 1.50 0.38
109.5 0.55 0.50 0.62 0.70
114.5 1.60 0.65 1.25 0.45
119.5 0.90 0.42 0.48 0.58
124.5 0.45 0.80 1.70 0.65
129.5 1.45 0.55 0.85 0.42
134.5 0.72 0.68 0.52 0.72
139.5 1.20 0.48 1.40 0.50
144.5 0.50 0.75 0.70 0.38
149.5 1.75 0.60 1.10 0.62
154.5 0.65 0.45 0.58 0.55
159.5 1.30 0.82 1.85 0.45
164.5 0.58 0.52 0.65 0.68
169.5 1.55 0.70 1.20 0.40
174.5 0.85 0.42 0.50 0.58
179.5 0.48 0.62 1.65 0.75
184.5 1.40 0.78 0.75 0.48
189.5 0.75 0.45 1.30 0.35
194.5 1.65 0.58 0.55 0.62
199.5 0.52 0.80 1.05 0.50
204.5 1.10 0.48 1.75 0.42
209.5 0.68 0.65 0.62 0.30
214.5 1.50 0.40 1.20 0.55
219.5 0.45 0.55 0.50 0.28
224.5 1.25 0.72 1.55 0.38
229.5 0.80 0.38 0.68 0.25
234.5 1.70 0.60 1.10 0.45
239.5 0.55 0.45 0.58 0.32
244.5 1.15 0.68 1.45 0.50
249.5 0.62 0.50 0.72 0.40
254.5 0.60 0.42 0.70 0.55
259.5 0.78 0.55 0.45 0.40
264.5 0.45 0.38 0.62 0.68
269.5 0.70 0.50 0.80 0.35
274.5 0.52 0.42 0.48 0.58
279.5 0.82 0.58 0.68 0.42
284.5 0.48 0.35 0.55 0.62
289.5 0.68 0.50 0.78 0.38
294.5 0.55 0.45 0.42 0.55
299.5 0.75 0.38 0.65 0.45
304.5 0.45 0.55 0.82 0.60
309.5 0.70 0.42 0.50 0.38
314.5 0.58 0.48 0.72 0.52
319.5 0.80 0.35 0.45 0.42
324.5 0.48 0.52 0.68 0.58
329.5 1.85 0.40 0.55 0.45
334.5 0.62 0.48 0.80 0.38
339.5 0.75 0.55 0.42 0.60
344.5 0.50 0.38 0.70 0.45
349.5 0.68 0.45 0.52 0.52
354.5 0.55 0.85 0.78 0.40
359.5 1.95 0.50 0.48 0.58
364.5 0.80 0.42 0.65 0.45
369.5 0.48 0.55 0.82 0.38
374.5 0.72 0.38 0.50 0.55
379.5 0.58 0.50 0.70 0.42
384.5 0.85 0.45 0.45 0.60
389.5 0.50 0.52 0.78 0.48
394.5 1.30 0.40 0.58 0.55
399.5 0.62 0.55 0.72 0.40
404.5 0.78 0.42 0.48 0.62
409.5 0.45 0.50 0.65 0.45
414.5 0.70 0.38 0.80 0.52
419.5 0.55 0.48 0.52 0.38
424.5 0.82 0.45 0.70 0.58
429.5 0.50 0.55 0.45 0.42
434.5 0.68 0.40 0.78 0.55
439.5 0.58 0.52 0.60 0.45
444.5 0.75 0.45 0.48 0.60
449.5 0.48 0.38 0.82 0.40
454.5 0.80 0.50 0.55 0.52
459.5 0.55 0.42 0.70 0.45
464.5 0.72 0.55 0.50 0.58
469.5 0.62 0.40 0.78 0.38
474.5 0.48 0.48 0.58 0.55
479.5 0.78 0.45 0.45 0.42
484.5 0.55 0.52 0.72 0.60
489.5 0.70 0.38 0.55 0.45
494.5 0.50 0.48 0.80 0.52
499.5 0.75 0.42 0.62 0.40
}\powBb

% Ch2 correlation time
\pgfplotstableread{
x m a b c d e
2 31 24 45 28 36 21
7 33 38 22 50 19 29
12 29 20 33 25 43 48
17 30 47 27 19 31 23
22 37 26 50 34 22 40
27 32 35 21 44 28 18
32 30 19 39 27 50 33
37 28 42 25 21 34 26
42 26 28 48 37 20 44
47 29 50 30 23 41 24
52 34 22 19 46 27 35
57 29 36 43 30 18 50
62 30 25 28 20 38 22
67 28 45 35 49 24 30
72 29 21 24 26 46 39
77 37 39 50 33 21 25
82 35 27 20 41 30 47
87 30 50 37 22 44 20
92 27 23 29 48 25 36
97 29 41 22 31 50 27
102 33 30 46 19 23 43
107 33 18 31 38 35 21
112 28 44 26 24 20 50
117 35 27 50 42 33 28
122 36 36 21 27 48 19
127 29 24 40 50 26 34
132 29 49 28 20 39 24
137 30 22 34 35 22 46
142 32 37 19 25 45 30
147 35 26 45 43 27 22
152 32 43 30 18 50 37
157 38 20 23 39 29 26
162 30 35 50 28 21 44
167 30 28 27 46 36 20
172 36 46 38 22 25 31
177 31 23 21 33 47 27
182 26 40 44 26 20 50
187 30 25 30 50 34 23
192 28 50 24 21 28 38
197 27 31 47 35 43 21
202 29 19 26 29 23 45
207 28 45 33 44 37 27
212 31 24 50 25 19 33
217 33 38 22 37 50 24
222 34 16 36 14 28 41
227 34 42 29 20 13 26
232 30 27 45 18 35 50
237 31 50 23 32 24 19
242 30 22 38 45 30 28
247 31 34 26 27 46 36
252 26 21 50 19 33 24
257 21 18 23 50 16 28
262 19 25 16 20 50 15
267 17 15 22 14 19 48
272 18 20 14 46 13 18
277 17 13 19 16 22 14
282 16 17 45 13 15 20
287 16 22 15 18 12 16
292 16 14 20 25 17 13
297 15 19 13 14 43 21
302 16 12 17 21 14 15
307 15 16 22 12 19 18
312 15 21 14 17 13 24
317 16 13 19 15 20 14
322 15 18 15 22 16 12
327 17 50 21 14 18 19
332 33 47 16 45 22 13
337 15 15 24 17 14 20
342 15 20 13 12 19 16
347 14 14 18 20 15 22
352 15 17 25 14 12 17
357 15 12 16 21 27 14
362 16 19 14 16 13 21
367 16 48 20 13 18 15
372 15 15 13 19 35 18
377 16 21 17 14 16 13
382 15 13 22 18 12 19
387 15 18 14 15 20 16
392 15 16 19 12 14 41
397 17 14 15 22 17 13
402 15 20 12 16 19 18
407 15 13 18 14 15 22
412 15 17 21 19 13 14
417 14 15 14 13 21 17
422 15 19 16 20 16 12
427 15 14 22 15 14 19
432 16 38 13 18 19 16
437 16 16 17 14 24 14
442 15 13 15 21 15 20
447 15 18 20 13 27 17
452 15 46 14 17 14 13
457 16 15 19 15 18 21
462 15 20 16 22 13 16
467 14 14 13 14 20 14
472 15 17 21 16 15 19
477 16 13 15 19 14 13
482 15 19 12 14 21 17
487 14 16 18 20 16 15
492 15 14 14 13 19 20
497 14 20 17 16 13 16
502 15 15 22 14 17 25
}\corB
\pgfplotstableread{
x f g h i
4.5 26 20 38 22
9.5 42 24 21 28
14.5 22 31 47 19
19.5 35 19 26 33
24.5 20 27 44 21
29.5 48 22 23 30
34.5 25 34 36 18
39.5 39 21 20 25
44.5 21 29 42 34
49.5 44 18 27 20
54.5 24 33 50 27
59.5 37 23 22 19
64.5 19 28 34 31
69.5 46 20 48 22
74.5 27 35 25 18
79.5 40 22 39 29
84.5 23 30 21 24
89.5 50 19 45 20
94.5 28 26 28 32
99.5 36 21 50 23
104.5 22 32 24 19
109.5 45 24 37 27
114.5 26 19 22 33
119.5 38 29 47 21
124.5 20 23 30 18
129.5 49 33 26 26
134.5 24 20 43 30
139.5 33 27 21 22
144.5 21 36 50 19
149.5 43 22 28 28
154.5 27 30 35 24
159.5 39 18 23 34
164.5 22 25 46 20
169.5 47 34 27 18
174.5 25 21 39 25
179.5 36 28 22 31
184.5 20 23 48 21
189.5 44 31 26 17
194.5 28 19 37 23
199.5 35 26 24 29
204.5 21 33 50 20
209.5 41 22 29 15
214.5 26 28 23 13
219.5 48 20 44 11
224.5 23 30 28 16
229.5 37 24 33 12
234.5 25 21 46 18
239.5 42 27 25 14
244.5 28 32 38 22
249.5 33 23 30 19
254.5 20 18 27 16
259.5 24 15 19 14
264.5 17 20 22 13
269.5 21 14 15 18
274.5 16 17 20 12
279.5 19 13 16 15
284.5 14 18 21 13
289.5 22 15 14 17
294.5 17 12 19 14
299.5 15 19 17 12
304.5 20 14 13 16
309.5 16 17 22 13
314.5 13 15 16 18
319.5 21 12 20 14
324.5 17 18 14 12
329.5 44 15 18 16
334.5 16 13 21 13
339.5 14 19 15 17
344.5 20 14 19 12
349.5 15 17 13 15
354.5 18 12 22 18
359.5 14 18 16 13
364.5 21 15 14 16
369.5 16 13 20 12
374.5 13 19 15 17
379.5 19 14 18 14
384.5 15 17 13 12
389.5 22 12 21 16
394.5 17 18 14 13
399.5 14 14 19 17
404.5 20 16 16 12
409.5 15 12 22 15
414.5 18 19 13 18
419.5 13 15 17 14
424.5 21 13 20 12
429.5 16 18 14 16
434.5 14 14 21 13
439.5 19 17 15 18
444.5 15 13 19 14
449.5 22 19 13 12
454.5 17 15 17 16
459.5 13 12 22 13
464.5 20 18 15 17
469.5 16 14 19 12
474.5 14 17 14 15
479.5 19 13 21 18
484.5 15 19 16 13
489.5 21 15 13 16
494.5 16 12 20 12
499.5 14 18 15 17
}\corBb

% Ch2 SVD entropy
\pgfplotstableread{
x m a b c d e
2 1.500 1.46 1.53 1.48 1.52 1.44
7 1.495 1.52 1.47 1.54 1.45 1.51
12 1.505 1.44 1.55 1.49 1.50 1.57
17 1.515 1.56 1.45 1.53 1.47 1.49
22 1.490 1.48 1.52 1.44 1.54 1.46
27 1.485 1.53 1.43 1.51 1.48 1.55
32 1.500 1.45 1.50 1.55 1.44 1.48
37 1.505 1.51 1.54 1.46 1.52 1.43
42 1.485 1.47 1.48 1.52 1.56 1.50
47 1.505 1.55 1.44 1.49 1.46 1.53
52 1.495 1.49 1.53 1.45 1.51 1.47
57 1.500 1.43 1.50 1.54 1.48 1.56
62 1.505 1.52 1.46 1.50 1.55 1.45
67 1.500 1.47 1.57 1.47 1.49 1.51
72 1.505 1.54 1.49 1.53 1.44 1.48
77 1.490 1.46 1.45 1.48 1.53 1.54
82 1.495 1.51 1.52 1.44 1.50 1.46
87 1.505 1.48 1.55 1.56 1.47 1.50
92 1.500 1.55 1.47 1.51 1.52 1.44
97 1.495 1.44 1.51 1.46 1.55 1.52
102 1.505 1.50 1.48 1.53 1.46 1.49
107 1.495 1.53 1.54 1.48 1.51 1.55
112 1.500 1.46 1.45 1.50 1.49 1.47
117 1.490 1.52 1.50 1.55 1.44 1.53
122 1.485 1.48 1.56 1.45 1.53 1.46
127 1.495 1.55 1.47 1.52 1.48 1.50
132 1.500 1.45 1.52 1.47 1.54 1.44
137 1.500 1.51 1.44 1.54 1.46 1.52
142 1.490 1.47 1.53 1.49 1.51 1.48
147 1.485 1.54 1.49 1.46 1.55 1.54
152 1.495 1.49 1.55 1.52 1.45 1.46
157 1.500 1.46 1.46 1.55 1.52 1.51
162 1.490 1.53 1.51 1.44 1.48 1.55
167 1.480 1.43 1.48 1.50 1.53 1.47
172 1.485 1.50 1.54 1.47 1.44 1.50
177 1.495 1.47 1.45 1.53 1.50 1.45
182 1.490 1.54 1.52 1.46 1.55 1.53
187 1.500 1.48 1.47 1.52 1.46 1.48
192 1.520 1.52 1.56 1.49 1.51 1.54
197 1.505 1.45 1.50 1.55 1.47 1.46
202 1.500 1.51 1.46 1.48 1.53 1.50
207 1.495 1.55 1.53 1.45 1.49 1.55
212 1.500 1.47 1.48 1.51 1.54 1.47
217 1.505 1.53 1.55 1.47 1.45 1.52
222 1.500 1.49 1.59 1.53 1.50 1.45
227 1.510 1.56 1.51 1.60 1.47 1.53
232 1.500 1.46 1.54 1.50 1.55 1.48
237 1.505 1.52 1.47 1.56 1.49 1.54
242 1.505 1.48 1.53 1.46 1.52 1.43
247 1.510 1.55 1.49 1.52 1.45 1.51
252 1.520 1.50 1.57 1.48 1.55 1.53
257 1.555 1.58 1.53 1.56 1.51 1.59
262 1.565 1.54 1.60 1.52 1.58 1.55
267 1.575 1.59 1.56 1.60 1.53 1.50
272 1.575 1.56 1.59 1.55 1.60 1.57
277 1.575 1.60 1.53 1.59 1.56 1.52
282 1.580 1.55 1.58 1.54 1.60 1.59
287 1.578 1.59 1.60 1.57 1.52 1.56
292 1.580 1.52 1.55 1.60 1.58 1.60
297 1.583 1.60 1.59 1.53 1.56 1.54
302 1.580 1.57 1.54 1.59 1.60 1.58
307 1.585 1.53 1.60 1.56 1.54 1.60
312 1.580 1.59 1.57 1.60 1.58 1.55
317 1.583 1.60 1.52 1.55 1.60 1.59
322 1.580 1.56 1.59 1.59 1.53 1.57
327 1.575 1.51 1.60 1.43 1.58 1.60
332 1.548 1.58 1.46 1.42 1.55 1.53
337 1.580 1.60 1.57 1.59 1.60 1.58
342 1.588 1.55 1.60 1.56 1.52 1.60
347 1.585 1.59 1.54 1.60 1.58 1.56
352 1.580 1.60 1.59 1.53 1.56 1.59
357 1.585 1.42 1.56 1.60 1.60 1.54
362 1.582 1.57 1.60 1.57 1.54 1.60
367 1.585 1.60 1.52 1.59 1.59 1.57
372 1.585 1.54 1.59 1.54 1.60 1.52
377 1.582 1.59 1.57 1.60 1.55 1.59
382 1.585 1.56 1.60 1.56 1.59 1.55
387 1.585 1.60 1.54 1.59 1.52 1.60
392 1.578 1.53 1.59 1.51 1.60 1.58
397 1.578 1.59 1.56 1.60 1.49 1.54
402 1.588 1.57 1.60 1.55 1.58 1.60
407 1.585 1.60 1.53 1.59 1.55 1.57
412 1.588 1.55 1.59 1.57 1.60 1.52
417 1.582 1.59 1.56 1.60 1.53 1.59
422 1.578 1.60 1.60 1.50 1.58 1.56
427 1.580 1.56 1.52 1.58 1.60 1.60
432 1.578 1.59 1.59 1.54 1.51 1.55
437 1.580 1.54 1.57 1.60 1.57 1.59
442 1.582 1.60 1.60 1.53 1.59 1.52
447 1.585 1.57 1.54 1.58 1.53 1.60
452 1.580 1.59 1.45 1.55 1.60 1.56
457 1.582 1.55 1.60 1.60 1.54 1.59
462 1.588 1.60 1.56 1.52 1.59 1.55
467 1.592 1.58 1.59 1.59 1.55 1.60
472 1.585 1.54 1.53 1.56 1.60 1.57
477 1.585 1.60 1.60 1.60 1.52 1.53
482 1.582 1.56 1.57 1.54 1.59 1.60
487 1.588 1.59 1.59 1.58 1.56 1.58
492 1.585 1.53 1.55 1.60 1.60 1.54
497 1.590 1.60 1.60 1.53 1.54 1.59
502 1.585 1.57 1.56 1.59 1.58 1.55
}\svdB
\pgfplotstableread{
x f g h i
4.5 1.52 1.47 1.55 1.49
9.5 1.46 1.53 1.48 1.45
14.5 1.55 1.44 1.51 1.52
19.5 1.49 1.50 1.44 1.47
24.5 1.53 1.46 1.54 1.43
29.5 1.45 1.52 1.47 1.50
34.5 1.51 1.48 1.53 1.46
39.5 1.47 1.55 1.45 1.53
44.5 1.54 1.45 1.50 1.48
49.5 1.48 1.51 1.56 1.44
54.5 1.44 1.47 1.46 1.51
59.5 1.52 1.53 1.52 1.47
64.5 1.49 1.44 1.49 1.54
69.5 1.55 1.50 1.44 1.46
74.5 1.46 1.54 1.53 1.50
79.5 1.51 1.46 1.48 1.45
84.5 1.47 1.52 1.55 1.52
89.5 1.53 1.48 1.46 1.48
94.5 1.45 1.55 1.51 1.44
99.5 1.50 1.45 1.47 1.51
104.5 1.54 1.51 1.54 1.47
109.5 1.48 1.47 1.45 1.53
114.5 1.52 1.53 1.50 1.46
119.5 1.46 1.44 1.53 1.50
124.5 1.53 1.50 1.47 1.43
129.5 1.49 1.54 1.52 1.49
134.5 1.44 1.46 1.45 1.52
139.5 1.51 1.52 1.55 1.47
144.5 1.55 1.48 1.48 1.45
149.5 1.47 1.45 1.51 1.51
154.5 1.52 1.53 1.46 1.48
159.5 1.48 1.49 1.54 1.44
164.5 1.54 1.44 1.49 1.50
169.5 1.45 1.51 1.44 1.43
174.5 1.50 1.55 1.52 1.47
179.5 1.46 1.47 1.47 1.52
184.5 1.53 1.52 1.54 1.46
189.5 1.49 1.46 1.50 1.49
194.5 1.56 1.53 1.46 1.54
199.5 1.47 1.49 1.53 1.48
204.5 1.52 1.45 1.48 1.45
209.5 1.48 1.54 1.55 1.51
214.5 1.54 1.50 1.47 1.47
219.5 1.46 1.46 1.52 1.53
224.5 1.51 1.56 1.49 1.58
229.5 1.49 1.48 1.54 1.55
234.5 1.55 1.52 1.46 1.49
239.5 1.47 1.45 1.51 1.52
244.5 1.52 1.53 1.48 1.46
249.5 1.50 1.49 1.53 1.50
254.5 1.56 1.53 1.50 1.52
259.5 1.59 1.56 1.57 1.55
264.5 1.55 1.60 1.53 1.58
269.5 1.60 1.54 1.59 1.52
274.5 1.57 1.59 1.56 1.56
279.5 1.60 1.55 1.60 1.53
284.5 1.54 1.60 1.55 1.58
289.5 1.59 1.57 1.59 1.54
294.5 1.56 1.53 1.57 1.59
299.5 1.60 1.60 1.54 1.55
304.5 1.58 1.56 1.60 1.52
309.5 1.55 1.59 1.57 1.57
314.5 1.60 1.54 1.53 1.54
319.5 1.57 1.60 1.60 1.59
324.5 1.53 1.57 1.56 1.55
329.5 1.46 1.52 1.59 1.50
334.5 1.58 1.59 1.53 1.57
339.5 1.60 1.55 1.60 1.54
344.5 1.56 1.60 1.56 1.58
349.5 1.59 1.57 1.59 1.52
354.5 1.55 1.53 1.55 1.56
359.5 1.60 1.60 1.60 1.53
364.5 1.57 1.56 1.57 1.58
369.5 1.54 1.59 1.53 1.55
374.5 1.60 1.55 1.60 1.50
379.5 1.58 1.60 1.56 1.57
384.5 1.55 1.57 1.59 1.53
389.5 1.60 1.53 1.54 1.48
394.5 1.56 1.60 1.60 1.55
399.5 1.59 1.56 1.57 1.50
404.5 1.54 1.59 1.53 1.56
409.5 1.60 1.55 1.60 1.52
414.5 1.57 1.60 1.56 1.57
419.5 1.55 1.57 1.59 1.49
424.5 1.60 1.53 1.55 1.54
429.5 1.58 1.60 1.60 1.51
434.5 1.55 1.56 1.57 1.56
439.5 1.60 1.59 1.53 1.53
444.5 1.57 1.55 1.60 1.49
449.5 1.54 1.60 1.56 1.52
454.5 1.60 1.57 1.59 1.48
459.5 1.56 1.53 1.55 1.55
464.5 1.59 1.60 1.60 1.51
469.5 1.55 1.56 1.57 1.49
474.5 1.60 1.59 1.53 1.56
479.5 1.57 1.55 1.60 1.53
484.5 1.54 1.60 1.56 1.57
489.5 1.60 1.57 1.59 1.54
494.5 1.58 1.53 1.55 1.58
499.5 1.55 1.60 1.60 1.52
}\svdBb

\begin{document}
\begin{tikzpicture}
\useasboundingbox (0pt,0pt) rectangle (616pt,-911pt);

% ---------------- (a) Ch1 ----------------
\begin{axis}[eeg, at={(58pt,-26pt)}, ymin=-2030, ymax=2070, ylabel={EEG Ch1},
  title style={xshift=-7pt},
  title={(a) Time\textendash aligned SWS to REM Transitions for Ch1 (14 transitions)}]
  \addplot[spike=mg] table[x=x,y=g]{\eegA};
  \addplot[fill=lg, draw=none] coordinates {(0,1300) (250,1300) (252,700) (504,700) (504,-700) (252,-700) (250,-1300) (0,-1300)} -- cycle;
  \addplot[spike=lg] table[x=x,y=l]{\eegA};
  \addplot[fill=kk, draw=none] coordinates {(0,250) (504,250) (504,-250) (0,-250)} -- cycle;
  \addplot[spike=kk, line width=0.8pt] table[x=x,y=k]{\eegA};
\end{axis}

\begin{axis}[panel, sci, at={(58pt,-132pt)}, ymin=0.32, ymax=4.28, ytick={1,2,3,4},
  ylabel={Ave Power}]
  \cloud{\powA}{\powAb}
\end{axis}
\begin{axis}[over, at={(58pt,-132pt)}, ymin=0.32, ymax=4.28]
  \addplot[meanline] table[x=x,y=m]{\powA};
\end{axis}

\begin{axis}[panel, at={(58pt,-238.5pt)}, ymin=9.9, ymax=80.9, ytick={20,40,60,80},
  ylabel={Corre Time}]
  \cloud{\corA}{\corAb}
\end{axis}
\begin{axis}[over, at={(58pt,-238.5pt)}, ymin=9.9, ymax=80.9]
  \addplot[meanline] table[x=x,y=m]{\corA};
\end{axis}

\begin{axis}[panel, at={(58pt,-344.5pt)}, ymin=1.322, ymax=1.616, ytick={1.4,1.5,1.6},
  ylabel={SVD Entropy}, xlabel={Time (Second)}]
  \cloud{\svdA}{\svdAb}
\end{axis}
\begin{axis}[over, at={(58pt,-344.5pt)}, ymin=1.322, ymax=1.616]
  \addplot[meanline] table[x=x,y=m]{\svdA};
\end{axis}

% ---------------- (b) Ch2 ----------------
\begin{axis}[eeg, at={(58pt,-493pt)}, ymin=-2000, ymax=2130, ylabel={EEG Ch2},
  title style={xshift=-11pt},
  title={(b)\,Time\textendash aligned SWS to REM Transitions for Ch2 (14 transitions)}]
  \addplot[spike=mg] table[x=x,y=g]{\eegB};
  \addplot[fill=lg, draw=none] coordinates {(0,550) (504,550) (504,-550) (0,-550)} -- cycle;
  \addplot[spike=lg] table[x=x,y=l]{\eegB};
  \addplot[fill=kk, draw=none] coordinates {(0,170) (504,170) (504,-170) (0,-170)} -- cycle;
  \addplot[spike=kk, line width=0.8pt] table[x=x,y=k]{\eegB};
\end{axis}

\begin{axis}[panel, sci, at={(58pt,-599pt)}, ymin=0.174, ymax=2.02, ytick={0.5,1,1.5,2},
  ylabel={Ave Power}]
  \cloud{\powB}{\powBb}
\end{axis}
\begin{axis}[over, at={(58pt,-599pt)}, ymin=0.174, ymax=2.02]
  \addplot[meanline] table[x=x,y=m]{\powB};
\end{axis}

\begin{axis}[panel, at={(58pt,-705.5pt)}, ymin=9.2, ymax=51, ytick={10,20,30,40,50},
  ylabel={Corre Time}]
  \cloud{\corB}{\corBb}
\end{axis}
\begin{axis}[over, at={(58pt,-705.5pt)}, ymin=9.2, ymax=51]
  \addplot[meanline] table[x=x,y=m]{\corB};
\end{axis}

\begin{axis}[panel, at={(58pt,-811.5pt)}, ymin=1.424, ymax=1.609, ytick={1.45,1.5,1.55,1.6},
  ylabel={SVD Entropy}, xlabel={Time (Second)}]
  \cloud{\svdB}{\svdBb}
\end{axis}
\begin{axis}[over, at={(58pt,-811.5pt)}, ymin=1.424, ymax=1.609]
  \addplot[meanline] table[x=x,y=m]{\svdB};
\end{axis}
\end{tikzpicture}
\end{document}
